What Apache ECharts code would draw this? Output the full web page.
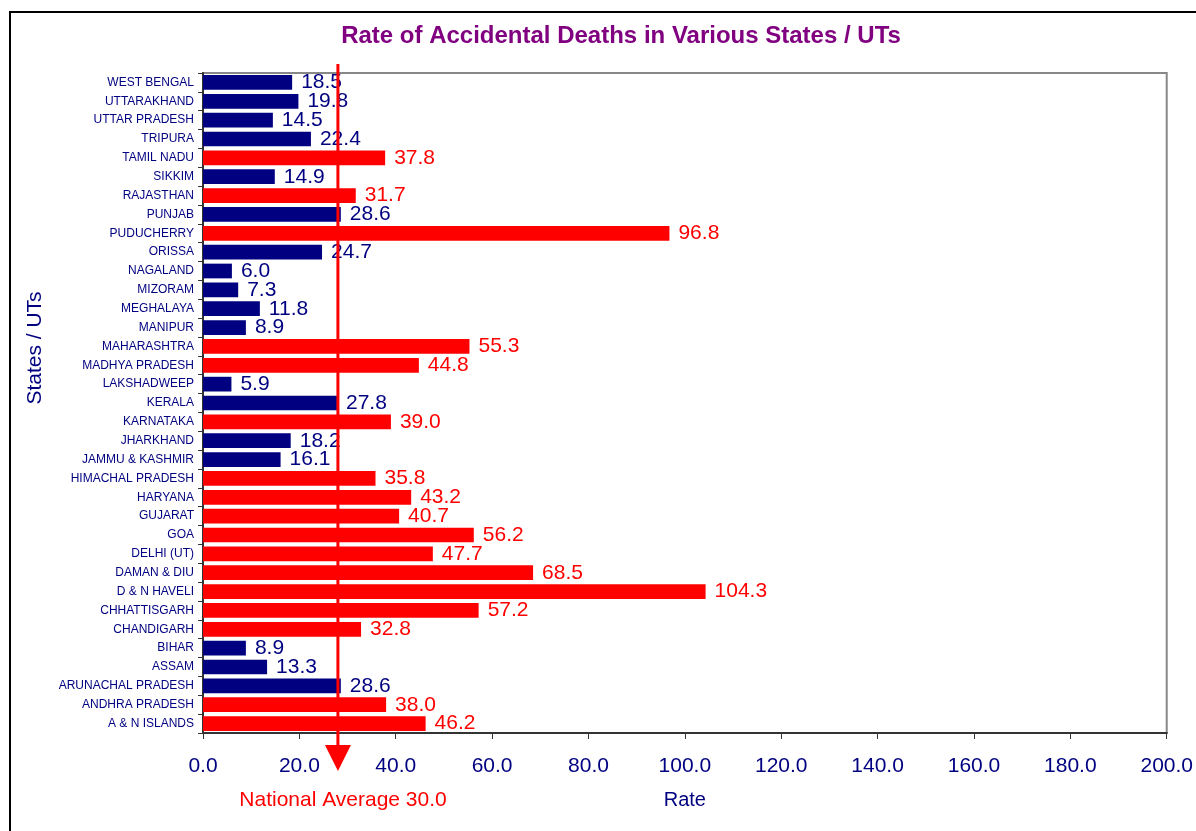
<!DOCTYPE html>
<html>
<head>
<meta charset="utf-8">
<title>Rate of Accidental Deaths</title>
<script src="https://cdn.jsdelivr.net/npm/echarts@6/dist/echarts.min.js"></script>
<style>
	html, body { margin: 0; padding: 0; background: #fff; }
	#chart { width: 1196px; height: 831px; }
</style>
</head>
<body>
<div id="chart"></div>
<script>
// states, bottom to top as drawn
var states = ['A & N ISLANDS', 'ANDHRA PRADESH', 'ARUNACHAL PRADESH', 'ASSAM', 'BIHAR',
	'CHANDIGARH', 'CHHATTISGARH', 'D & N HAVELI', 'DAMAN & DIU', 'DELHI (UT)', 'GOA',
	'GUJARAT', 'HARYANA', 'HIMACHAL PRADESH', 'JAMMU & KASHMIR', 'JHARKHAND', 'KARNATAKA',
	'KERALA', 'LAKSHADWEEP', 'MADHYA PRADESH', 'MAHARASHTRA', 'MANIPUR', 'MEGHALAYA',
	'MIZORAM', 'NAGALAND', 'ORISSA', 'PUDUCHERRY', 'PUNJAB', 'RAJASTHAN', 'SIKKIM',
	'TAMIL NADU', 'TRIPURA', 'UTTAR PRADESH', 'UTTARAKHAND', 'WEST BENGAL'];
var rates = [46.2, 38.0, 28.6, 13.3, 8.9,
	32.8, 57.2, 104.3, 68.5, 47.7, 56.2,
	40.7, 43.2, 35.8, 16.1, 18.2, 39.0,
	27.8, 5.9, 44.8, 55.3, 8.9, 11.8,
	7.3, 6.0, 24.7, 96.8, 28.6, 31.7, 14.9,
	37.8, 22.4, 14.5, 19.8, 18.5];
var xTicks = [0, 20, 40, 60, 80, 100, 120, 140, 160, 180, 200];
var nationalAvg = 30.0;
var arrowAt = 28.0; // where the arrow is drawn in the picture

var NAVY = '#000080', RED = '#ff0000';
var FONT = '"Liberation Sans", Arial, sans-serif';

var barData = rates.map(function(v) {
	var c = v > nationalAvg ? RED : NAVY;
	return { value: v, itemStyle: { color: c }, label: { color: c } };
});

var myChart = echarts.init(document.getElementById('chart'));
myChart.setOption({
	animation: false,
	textStyle: { fontFamily: FONT },
	title: {
		text: 'Rate of Accidental Deaths in Various States / UTs',
		left: 616,
		top: 19,
		textAlign: 'center',
		textStyle: { color: '#800080', fontSize: 24, fontWeight: 'bold', fontFamily: FONT }
	},
	grid: {
		left: 203, top: 73, right: 28, bottom: 98,
		show: true, borderColor: '#888', borderWidth: 2, backgroundColor: '#fff'
	},
	xAxis: {
		type: 'value',
		min: xTicks[0],
		max: xTicks[xTicks.length - 1],
		interval: 20,
		name: 'Rate',
		nameLocation: 'middle',
		nameGap: 57,
		nameTextStyle: { color: NAVY, fontSize: 20, fontFamily: FONT },
		axisLine: { show: true, lineStyle: { color: '#333', width: 2 } },
		axisTick: { show: true, length: 6, lineStyle: { color: '#333' } },
		axisLabel: {
			color: NAVY, fontSize: 21, margin: 23, fontFamily: FONT,
			formatter: function(v) { return v.toFixed(1); }
		},
		splitLine: { show: false }
	},
	yAxis: {
		type: 'category',
		data: states,
		axisLine: { show: true, lineStyle: { color: '#333', width: 2 } },
		axisTick: { show: true, length: 5, lineStyle: { color: '#333' } },
		axisLabel: { color: NAVY, fontSize: 12, margin: 9, fontFamily: FONT }
	},
	series: [{
		type: 'bar',
		data: barData,
		barCategoryGap: '22%',
		label: {
			show: true,
			position: 'right',
			distance: 9,
			fontSize: 21,
			fontFamily: FONT,
			formatter: function(p) { return p.value.toFixed(1); }
		}
	}]
});

// 全国平均箭头和文字
var ax = myChart.convertToPixel({ xAxisIndex: 0 }, arrowAt);
myChart.setOption({
	graphic: [
		{
			type: 'rect', silent: true, z: -10,
			shape: { x: 10, y: 12, width: 1200, height: 900 },
			style: { fill: 'none', stroke: '#000', lineWidth: 2 }
		},
		{
			type: 'line', silent: true, z: 100,
			shape: { x1: ax, y1: 64, x2: ax, y2: 748 },
			style: { stroke: RED, lineWidth: 3 }
		},
		{
			type: 'polygon', silent: true, z: 100,
			shape: { points: [[ax - 13, 745], [ax + 13, 745], [ax, 771]] },
			style: { fill: RED }
		},
		{
			type: 'text', silent: true, z: 100,
			x: 343, y: 800,
			style: {
				text: 'National Average ' + nationalAvg.toFixed(1),
				fill: RED, font: '21px ' + FONT,
				align: 'center', verticalAlign: 'middle'
			}
		},
		{
			// 纵轴标题
			type: 'text', silent: true,
			x: 35, y: 348, rotation: Math.PI / 2,
			style: {
				text: 'States / UTs',
				fill: NAVY, font: '21px ' + FONT,
				align: 'center', verticalAlign: 'middle'
			}
		}
	]
});
</script>
</body>
</html>
